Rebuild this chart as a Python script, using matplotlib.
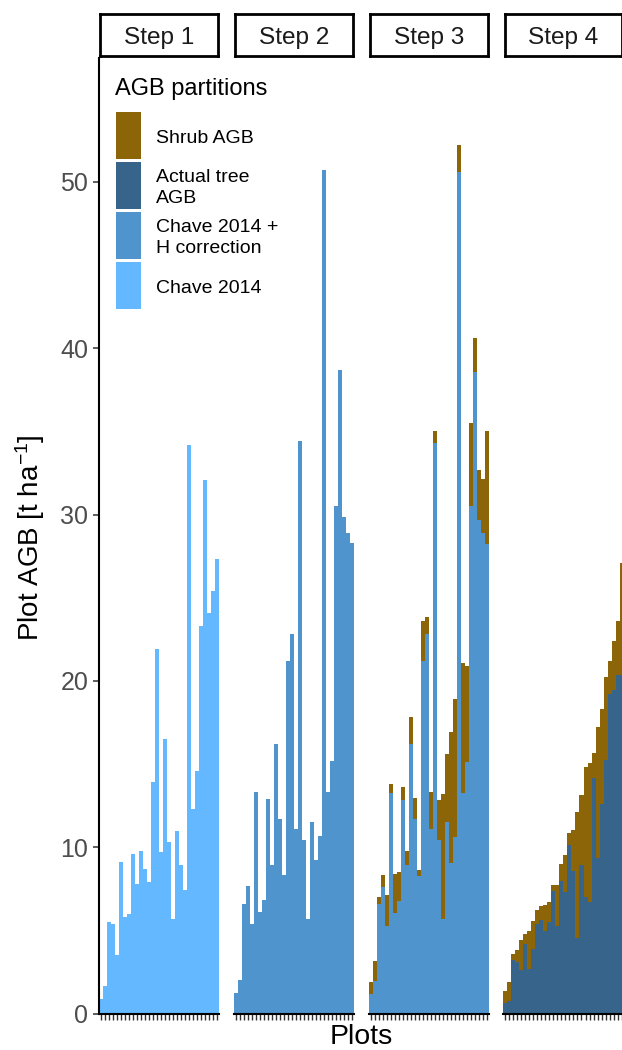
import matplotlib
matplotlib.use('Agg')
import matplotlib.pyplot as plt
from matplotlib.patches import Rectangle
import numpy as np

plt.rcParams['font.family'] = ['Liberation Sans', 'DejaVu Sans']
plt.rcParams['mathtext.fontset'] = 'custom'
plt.rcParams['mathtext.rm'] = 'Liberation Sans'
plt.rcParams['mathtext.it'] = 'Liberation Sans:italic'
plt.rcParams['mathtext.bf'] = 'Liberation Sans:bold'

# ---------------- data ----------------
steps = ['Step 1', 'Step 2', 'Step 3', 'Step 4']
partitions = ['Shrub AGB', 'Actual tree\nAGB', 'Chave 2014 +\nH correction', 'Chave 2014']
partition_colors = ['#8B6508', '#36648B', '#4F94CD', '#63B8FF']

plot_ids = list(range(1, 31))

step1_chave = [0.9, 1.64, 5.5, 5.4, 3.5, 9.1, 5.8, 6.0, 9.6, 7.8,
               9.75, 8.7, 7.9, 13.9, 21.9, 9.7, 16.5, 10.3, 5.7, 10.96,
               8.9, 7.4, 34.2, 12.3, 14.6, 23.3, 32.1, 24.1, 25.4, 27.3]

step2_chave_h = [1.24, 2.04, 6.6, 7.65, 5.4, 13.3, 6.1, 6.85, 12.9, 8.95,
                 16.2, 11.7, 8.3, 21.2, 22.8, 11.1, 34.4, 10.45, 5.7, 11.5,
                 9.2, 10.65, 50.7, 13.3, 15.2, 30.5, 38.7, 29.85, 28.9, 28.3]

step3_chave_h = [1.19, 1.95, 6.59, 7.6, 5.29, 13.28, 6.07, 6.76, 12.83, 8.9,
                 16.2, 11.7, 8.26, 21.2, 22.8, 11.1, 34.3, 10.44, 5.7, 11.5,
                 9.04, 10.6, 50.6, 13.28, 15.1, 30.5, 38.6, 29.7, 28.9, 28.2]
step3_shrub = [0.69, 1.22, 0.41, 0.73, 1.84, 0.52, 2.33, 1.77, 0.77, 0.9,
               1.65, 1.27, 0.37, 2.4, 1.05, 2.2, 0.7, 2.39, 7.5, 4.1,
               7.86, 8.3, 1.6, 7.82, 5.8, 5.0, 2.0, 3.0, 3.25, 6.8]

step4_tree = [0.64, 0.76, 3.23, 3.1, 2.6, 4.19, 2.69, 3.89, 5.39, 5.63,
              4.97, 5.51, 7.37, 5.27, 7.98, 7.31, 10.14, 8.58, 4.55, 8.94,
              7.01, 6.71, 14.17, 9.36, 12.6, 15.25, 19.2, 19.46, 20.36, 20.36]
step4_shrub = [0.72, 1.14, 0.36, 0.73, 1.83, 0.6, 2.28, 1.68, 0.84, 0.84,
               1.56, 1.2, 0.37, 2.47, 1.02, 2.23, 0.72, 2.46, 7.57, 4.21,
               7.82, 8.36, 1.5, 7.87, 5.7, 4.99, 2.0, 2.94, 3.24, 6.74]

y_ticks = [0, 10, 20, 30, 40, 50]

colors = dict(zip(partitions, partition_colors))
stacks = {
    'Step 1': [('Chave 2014', step1_chave)],
    'Step 2': [('Chave 2014 +\nH correction', step2_chave_h)],
    'Step 3': [('Chave 2014 +\nH correction', step3_chave_h), ('Shrub AGB', step3_shrub)],
    'Step 4': [('Actual tree\nAGB', step4_tree), ('Shrub AGB', step4_shrub)],
}

# ---------------- layout (pixels) ----------------
W, H = 622, 1050
fig = plt.figure(figsize=(W / 100, H / 100), dpi=100)

lefts = [99, 233.8, 368.6, 503.3]
pw = 120.3
top, bottom = 58, 1013.5
ymax = 57.45

def fig_rect(x0, y0, x1, y1):
    return [x0 / W, 1 - y1 / H, (x1 - x0) / W, (y1 - y0) / H]

x = np.arange(1, len(plot_ids) + 1)
for i, step in enumerate(steps):
    ax = fig.add_axes(fig_rect(lefts[i], top, lefts[i] + pw, bottom))
    base = np.zeros(len(x))
    for part, vals in stacks[step]:
        v = np.array(vals)
        ax.bar(x, v, bottom=base, width=1.0, color=colors[part],
               linewidth=0, antialiased=False)
        base = base + v
    ax.set_xlim(0.5, len(x) + 0.5)
    ax.set_ylim(0, ymax)
    ax.spines['top'].set_visible(False)
    ax.spines['right'].set_visible(False)
    ax.spines['bottom'].set_linewidth(1.5)
    ax.spines['bottom'].set_color('black')
    ax.set_xticks(x)
    ax.set_xticklabels([])
    ax.tick_params(axis='x', length=4.3, width=1.0, color='#333333', direction='out')
    if i == 0:
        ax.spines['left'].set_linewidth(1.5)
        ax.spines['left'].set_color('black')
        ax.set_yticks(y_ticks)
        ax.set_yticklabels([str(t) for t in y_ticks])
        ax.tick_params(axis='y', length=4.3, width=1.1, color='#333333',
                       labelsize=18, labelcolor='#4D4D4D', pad=3.5)
    else:
        ax.spines['left'].set_visible(False)
        ax.set_yticks([])

    # strip
    sax = fig.add_axes(fig_rect(lefts[i] + 1.4, 14.1, lefts[i] + pw - 1.4, 55.9))
    sax.set_xticks([])
    sax.set_yticks([])
    sax.set_facecolor('white')
    for sp in sax.spines.values():
        sp.set_linewidth(2.0)
        sp.set_color('black')
    fig.text((lefts[i] + pw / 2) / W, 1 - 44.3 / H, step, ha='center',
             va='baseline', fontsize=17.6, color='#1A1A1A')

# axis titles
fig.text(30 / W, 1 - 538 / H, 'Plot AGB [t ha$^{-1}$]', rotation=90,
         ha='center', va='center', fontsize=20, color='black')
fig.text(361 / W, 1 - 1044.5 / H, 'Plots', ha='center', va='baseline',
         fontsize=20.5, color='black')

# legend (overlay in pixel coordinates)
lax = fig.add_axes([0, 0, 1, 1], zorder=5)
lax.set_xlim(0, W)
lax.set_ylim(H, 0)
lax.axis('off')
lax.text(115, 94.5, 'AGB partitions', fontsize=17, va='baseline', ha='left', color='black')
key_x, key_w, key_h, key_top, pitch = 116, 25, 46.7, 112.3, 50
line_gap = 21
cap = 0.716 * 14 * 100 / 72
for j, (lab, col) in enumerate(zip(partitions, partition_colors)):
    y0 = key_top + pitch * j
    lax.add_patch(Rectangle((key_x, y0), key_w, key_h, facecolor=col, edgecolor='none'))
    lines = lab.split('\n')
    cy = y0 + key_h / 2
    first_base = cy - (len(lines) - 1) * line_gap / 2 + cap / 2
    for k, ln in enumerate(lines):
        lax.text(156, first_base + k * line_gap, ln, fontsize=14, va='baseline',
                 ha='left', color='black')

fig.savefig('out.png', dpi=100)
